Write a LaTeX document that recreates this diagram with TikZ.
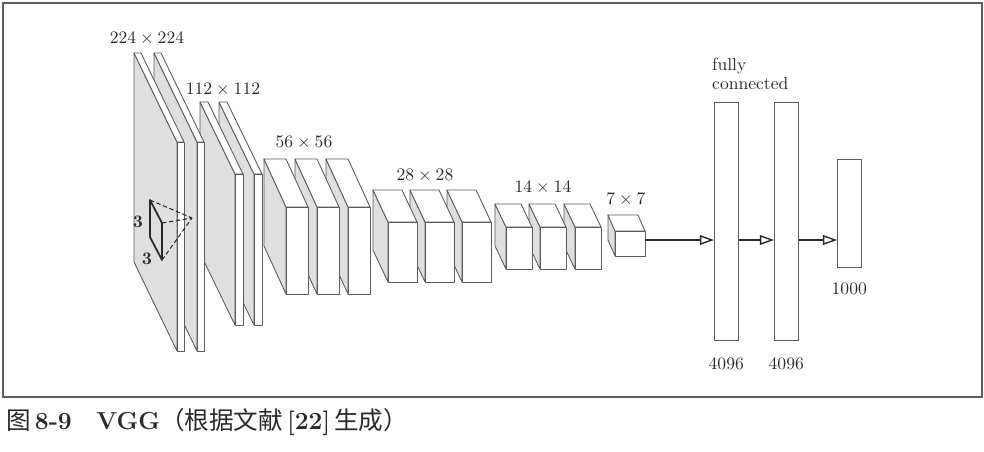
\documentclass[tikz,border=0pt]{standalone}
\usepackage{fontspec}
\newfontfamily\cjk{Noto Sans CJK SC}
\usepackage{xcolor}
\usepackage{tikz}
\usetikzlibrary{positioning, arrows.meta}
\definecolor{edgeG}{HTML}{5C5C5C}
\definecolor{sideG}{HTML}{DFDFDF}
\definecolor{textK}{HTML}{2A2A2A}
\tikzset{
  sideface/.style={fill=sideG, draw=edgeG, line width=0.5pt, line join=round},
  frontface/.style={fill=white, draw=edgeG, line width=0.5pt, line join=round},
  fclayer/.style={draw=edgeG, fill=white, line width=0.6pt, inner sep=0pt,
     anchor=north west, minimum width=4.7mm},
  flow/.style={-{Triangle[open, length=8pt, width=5.5pt, line width=0.8pt]},
     line width=0.6pt, textK},
  dimlab/.style={text=textK},
}
% one feature map: front top-left corner, width, height, depth offset
\newcommand{\fmap}[6]{%
  \filldraw[sideface] (#1,#2) -- (#1,#2+#4) -- (#1-#5,#2+#4-#6) -- (#1-#5,#2-#6) -- cycle;
  \filldraw[frontface] (#1,#2) -- (#1+#3,#2) -- (#1+#3-#5,#2-#6) -- (#1-#5,#2-#6) -- cycle;
  \filldraw[frontface] (#1,#2) rectangle ++(#3,#4);
}

\begin{document}
\begin{tikzpicture}[x=0.02cm, y=-0.02cm]
  \useasboundingbox (0,0) rectangle (984,451);
  \draw[edgeG, line width=0.8pt] (3,3) rectangle (982,397);
  % feature maps, drawn right to left
  \fmap{615}{231}{30}{25}{7}{16}
  \foreach \mx in {575,540,506}{ \fmap{\mx}{227}{26}{42}{11}{23} }
  \foreach \mx in {462,425,388}{ \fmap{\mx}{222}{29}{60}{15}{32} }
  \foreach \mx in {348,317,286}{ \fmap{\mx}{207}{22}{87}{22}{48} }
  \foreach \mx in {254,235}{ \fmap{\mx}{174}{8}{151}{35}{72} }
  \foreach \mx in {197,177}{ \fmap{\mx}{142}{7}{209}{43}{89} }
  \foreach \px/\py/\lab in {147/39/224\times224, 223/90/112\times112, 304/143/56\times56,
     425/176/28\times28, 543/188/14\times14, 626/200/7\times7}{
     \node[dimlab] at (\px,\py) {$\lab$};
  }
  % 3x3 kernel
  \coordinate (k1) at (150,200);
  \coordinate (k2) at (162,223);
  \coordinate (k3) at (162,260);
  \coordinate (k4) at (150,237);
  \coordinate (apex) at (192,218);
  \draw[textK, line width=1pt, line join=round] (k1) -- (k2) -- (k3) -- (k4) -- cycle;
  \draw[textK, dash pattern=on 2.5pt off 1.5pt, line width=0.6pt]
     (k1) -- (apex) (k2) -- (apex) (k3) -- (apex);
  \node[dimlab, font=\bfseries] (kh) at (138,222) {3};
  \node[dimlab, font=\bfseries] (kw) at (147,259) {3};
  % fully connected
  \node[fclayer, minimum height=47.6mm] (fc1) at (714,102) {};
  \node[fclayer, minimum height=47.6mm] (fc2) at (774,102) {};
  \node[fclayer, minimum height=21.6mm] (fc3) at (837,159) {};
  \node[dimlab, anchor=north west, align=left, font=\fontsize{10}{10.5}\selectfont]
     (fclab) at (706,52) {fully\\connected};
  \node[dimlab, below=2.1mm of fc1] (n1) {4096};
  \node[dimlab, below=2.1mm of fc2] (n2) {4096};
  \node[dimlab, below=1.7mm of fc3] (n3) {1000};
  \coordinate (c7) at (645,240);
  \draw[flow] (c7) -- (c7 -| fc1.west);
  \draw[flow] (c7 -| fc1.east) -- (c7 -| fc2.west);
  \draw[flow] (c7 -| fc2.east) -- (c7 -| fc3.west);
  % caption
  \node[anchor=west, text=textK, font=\fontsize{14}{16}\selectfont] (cap) at (0,422)
     {{\cjk 图}\,\textbf{8-9}\quad\textbf{VGG}{\cjk （根据文献}\,\textbf{[22]}\,{\cjk 生成）}};
\end{tikzpicture}
\end{document}
